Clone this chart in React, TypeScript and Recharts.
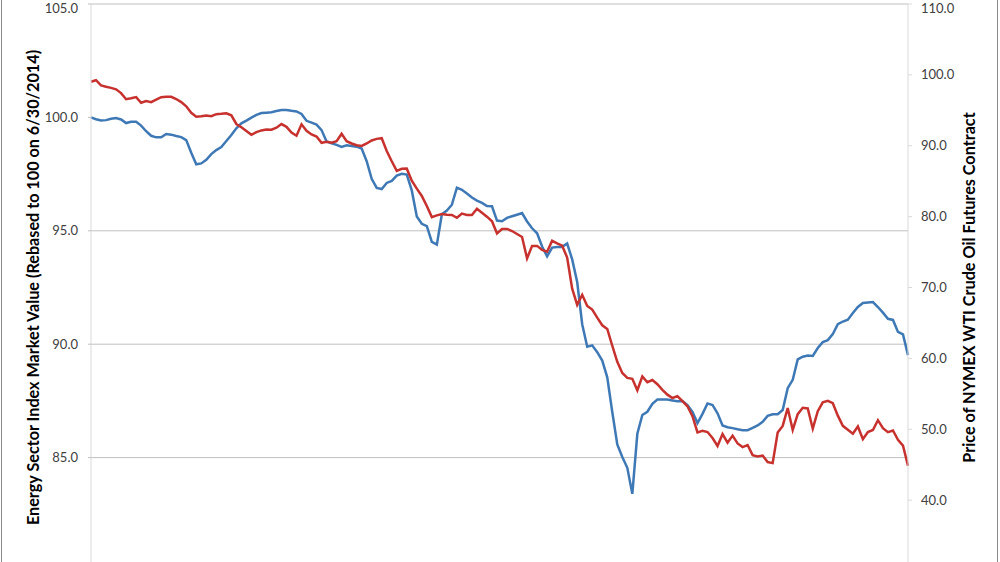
import React from 'react';
import { LineChart, Line, XAxis, YAxis, ReferenceLine, Label } from 'recharts';

// Energy sector index, rebased to 100 on 6/30/2014 (left axis)
const energyIndex = [
  100.0, 99.92, 99.86, 99.88, 99.94, 99.97, 99.91, 99.75, 99.81, 99.81,
  99.64, 99.39, 99.19, 99.12, 99.12, 99.27, 99.24, 99.18, 99.13, 99.0,
  98.44, 97.93, 97.97, 98.13, 98.38, 98.56, 98.69, 98.96, 99.22, 99.52,
  99.74, 99.86, 99.99, 100.11, 100.19, 100.21, 100.23, 100.28, 100.33, 100.33,
  100.29, 100.26, 100.15, 99.85, 99.77, 99.68, 99.44, 98.94, 98.86, 98.79,
  98.7, 98.77, 98.74, 98.71, 98.63, 98.07, 97.29, 96.89, 96.84, 97.11,
  97.2, 97.43, 97.51, 97.48, 96.78, 95.63, 95.31, 95.21, 94.51, 94.39,
  95.73, 95.89, 96.15, 96.9, 96.81, 96.64, 96.47, 96.33, 96.23, 96.09,
  96.08, 95.45, 95.42, 95.57, 95.64, 95.71, 95.78, 95.41, 95.11, 94.89,
  94.31, 93.87, 94.26, 94.29, 94.29, 94.44, 93.74, 92.74, 90.88, 89.89,
  89.95, 89.65, 89.28, 88.54, 87.01, 85.58, 85.03, 84.55, 83.4, 86.05,
  86.88, 87.02, 87.37, 87.56, 87.56, 87.56, 87.52, 87.48, 87.49, 87.31,
  87.02, 86.52, 86.93, 87.39, 87.32, 86.95, 86.42, 86.34, 86.3, 86.25,
  86.21, 86.21, 86.31, 86.42, 86.58, 86.84, 86.91, 86.91, 87.1, 88.06,
  88.43, 89.33, 89.45, 89.5, 89.48, 89.83, 90.09, 90.18, 90.45, 90.88,
  91.0, 91.08, 91.38, 91.64, 91.82, 91.84, 91.86, 91.64, 91.39, 91.12,
  91.07, 90.54, 90.43, 89.52,
];

// NYMEX WTI crude oil futures price (right axis)
const wtiPrice = [
  99.04, 99.25, 98.52, 98.32, 98.17, 97.97, 97.43, 96.57, 96.71, 96.87,
  96.06, 96.3, 96.15, 96.5, 96.85, 96.93, 96.91, 96.59, 96.16, 95.56,
  94.65, 94.1, 94.16, 94.25, 94.18, 94.46, 94.51, 94.58, 94.29, 93.07,
  92.62, 92.09, 91.55, 91.92, 92.16, 92.28, 92.26, 92.55, 93.06, 92.67,
  91.86, 91.41, 93.02, 92.12, 91.59, 91.3, 90.41, 90.55, 90.44, 90.63,
  91.69, 90.65, 90.32, 90.07, 89.97, 90.32, 90.75, 90.97, 91.06, 89.27,
  87.81, 86.45, 86.74, 86.77, 85.08, 83.95, 82.92, 81.5, 79.93, 80.18,
  80.38, 80.25, 80.24, 79.84, 80.42, 80.24, 80.24, 81.11, 80.55, 79.99,
  79.35, 77.64, 78.24, 78.27, 77.97, 77.55, 77.12, 74.1, 75.87, 75.87,
  75.3, 75.04, 76.59, 76.23, 75.9, 74.23, 69.83, 67.55, 68.97, 67.4,
  66.88, 65.74, 64.67, 64.16, 61.78, 59.51, 57.95, 57.25, 57.11, 55.5,
  57.46, 56.63, 56.95, 56.36, 55.56, 54.88, 54.41, 54.67, 53.96, 53.24,
  51.85, 49.56, 49.77, 49.61, 48.77, 47.64, 49.32, 48.1, 49.1, 48.0,
  47.48, 47.77, 46.35, 46.16, 46.29, 45.37, 45.22, 49.53, 50.47, 53.0,
  49.9, 52.13, 53.02, 52.93, 50.08, 52.55, 53.79, 54.01, 53.68, 51.92,
  50.48, 49.93, 49.38, 50.39, 48.6, 49.61, 49.9, 51.28, 50.16, 49.59,
  49.82, 48.5, 47.69, 44.84,
];

const leftTicks = [85, 90, 95, 100, 105];
const rightTicks = [40, 50, 60, 70, 80, 90, 100, 110];
const gridValues = [85, 90, 95, 105];

const leftTitle = 'Energy Sector Index Market Value (Rebased to 100 on 6/30/2014)';
const rightTitle = 'Price of NYMEX WTI Crude Oil Futures Contract';

const data = energyIndex.map((v, i) => ({ day: i + 1, energy: v, wti: wtiPrice[i] }));

const FONT = 'Lato, "Open Sans", sans-serif';

const AxisTitle = ({ viewBox, value, dx }: any) => {
  const cx = viewBox.x + dx;
  const cy = viewBox.y + viewBox.height / 2;
  return (
    <text
      x={cx}
      y={cy}
      transform={`rotate(-90 ${cx} ${cy})`}
      textAnchor="middle"
      dominantBaseline="central"
      fontFamily={FONT}
      fontWeight="bold"
      fontSize={16.2}
      fill="#000"
    >
      {value}
    </text>
  );
};

const tickStyle = { fontSize: 13, fill: '#404040', fontFamily: FONT };

export default function App() {
  return (
    <div style={{ position: 'fixed', left: 0, top: 0, width: 1000, height: 562, overflow: 'hidden', background: '#fff' }}>
      <div style={{ position: 'absolute', left: 1, top: -5, width: 995, height: 620, borderLeft: '1px solid #8a8a8a', borderRight: '1px solid #8a8a8a' }} />
      <div style={{ position: 'absolute', left: 0, top: 0 }}>
        <LineChart width={1000} height={600} data={data} margin={{ top: 4, right: 0, bottom: 29, left: 0 }}>
          <XAxis dataKey="day" hide padding={{ left: 0, right: 0 }} />
          <YAxis
            yAxisId="left"
            width={91}
            domain={[80, 105]}
            ticks={leftTicks}
            tickFormatter={(v: number) => v.toFixed(1)}
            tick={tickStyle}
            tickSize={3}
            tickMargin={10}
            axisLine={{ stroke: '#d9d9d9' }}
            tickLine={{ stroke: '#bfbfbf' }}
            allowDataOverflow
          >
            <Label content={(p: any) => <AxisTitle {...p} value={leftTitle} dx={32} />} />
          </YAxis>
          <YAxis
            yAxisId="right"
            orientation="right"
            width={92}
            domain={[30, 110]}
            ticks={rightTicks}
            tickFormatter={(v: number) => v.toFixed(1)}
            tick={tickStyle}
            tickSize={4}
            tickMargin={9}
            axisLine={{ stroke: '#d9d9d9' }}
            tickLine={{ stroke: '#d9d9d9' }}
            allowDataOverflow
          >
            <Label content={(p: any) => <AxisTitle {...p} value={rightTitle} dx={60} />} />
          </YAxis>
          {gridValues.map((v) => (
            <ReferenceLine key={v} yAxisId="left" y={v} stroke="#bfbfbf" strokeWidth={1} />
          ))}
          <Line
            yAxisId="left"
            type="linear"
            dataKey="energy"
            stroke="#3e79b6"
            strokeWidth={2.5}
            dot={false}
            isAnimationActive={false}
          />
          <Line
            yAxisId="right"
            type="linear"
            dataKey="wti"
            stroke="#c7312e"
            strokeWidth={2.5}
            dot={false}
            isAnimationActive={false}
          />
        </LineChart>
      </div>
    </div>
  );
}
